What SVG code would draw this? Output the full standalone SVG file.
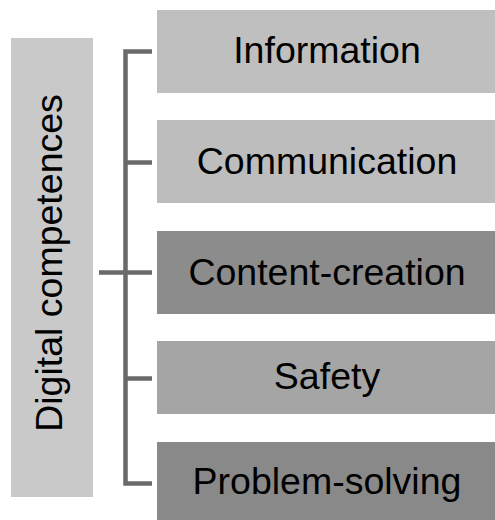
<svg xmlns="http://www.w3.org/2000/svg" width="495" height="520" viewBox="0 0 495 520">
  <style>
    .lbl { font-family: "Liberation Sans", Arial, sans-serif; font-size: 37.5px; fill: #000; text-anchor: middle; }
    .conn { fill: none; stroke: #6a6a6a; stroke-width: 4.5; stroke-linejoin: miter; }
  </style>
  <rect width="495" height="520" fill="#ffffff"/>

  <g id="root">
    <rect x="11" y="38" width="82" height="459" fill="#c9c9c9"/>
    <text class="lbl" transform="translate(62 263) rotate(-90)">Digital competences</text>
  </g>

  <g id="connectors">
    <path class="conn" d="M152 51.5 H125.5 V483.5 H152"/>
    <path class="conn" d="M125.5 162.5 H152 M125.5 272.5 H152 M125.5 378.5 H152 M99 272.5 H125.5"/>
  </g>

  <g id="information">
    <rect x="157" y="10" width="338" height="83" fill="#bfbfbf"/>
    <text class="lbl" x="327" y="63">Information</text>
  </g>
  <g id="communication">
    <rect x="157" y="120" width="338" height="83" fill="#bdbdbd"/>
    <text class="lbl" x="327" y="174">Communication</text>
  </g>
  <g id="content-creation">
    <rect x="157" y="231" width="338" height="83" fill="#8c8c8c"/>
    <text class="lbl" x="327" y="285">Content-creation</text>
  </g>
  <g id="safety">
    <rect x="157" y="341" width="338" height="73" fill="#a5a5a5"/>
    <text class="lbl" x="327" y="389">Safety</text>
  </g>
  <g id="problem-solving">
    <rect x="157" y="442" width="338" height="78" fill="#898989"/>
    <text class="lbl" x="327" y="494">Problem-solving</text>
  </g>
</svg>
